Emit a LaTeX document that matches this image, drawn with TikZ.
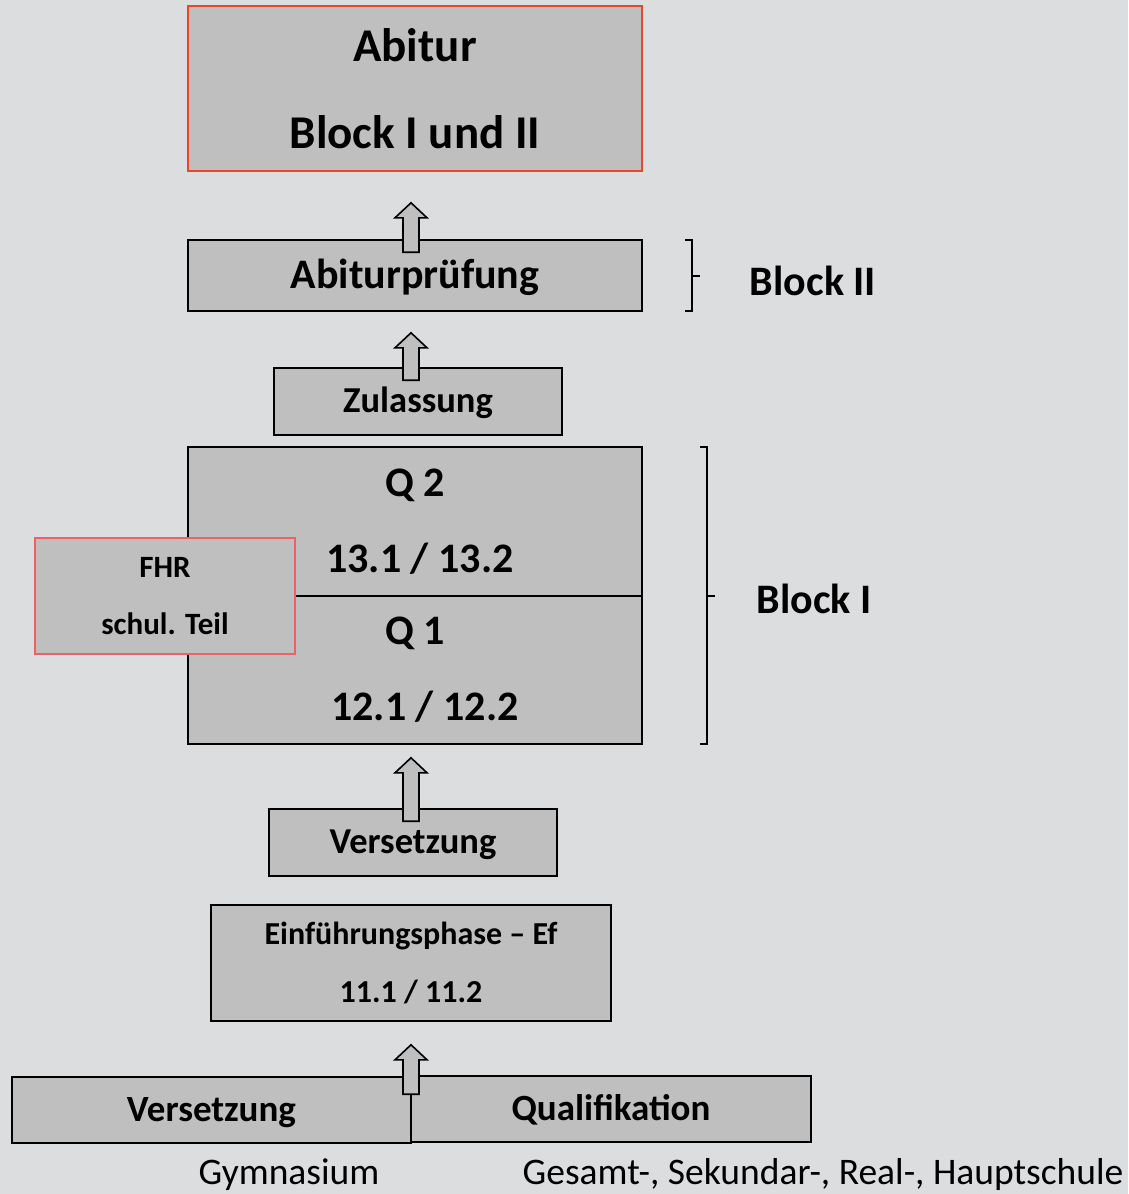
\documentclass[tikz,border=0pt]{standalone}
\usepackage{fontspec}
\setmainfont{Carlito}
\usetikzlibrary{calc}
\definecolor{bg}{RGB}{220,221,223}
\definecolor{boxfill}{RGB}{191,191,191}
\definecolor{redA}{RGB}{232,72,40}
\definecolor{redB}{RGB}{240,96,96}
\newcommand\fsz[2]{\fontsize{#1}{#2}\selectfont}
% hollow up-arrow: #1 lower node anchor, #2 upper node anchor, #3 gap below upper node, #4 overlap into lower node
\newcommand\hollowup[4]{%
  \draw[harrow] let \p1=(#1), \p2=(#2) in
    (403pt,\y1-#4pt) -- (403pt,\y2-#3pt-15pt) -- (395pt,\y2-#3pt-15pt) -- (411pt,\y2-#3pt)
    -- (427pt,\y2-#3pt-15pt) -- (419pt,\y2-#3pt-15pt) -- (419pt,\y1-#4pt) -- cycle;}
\begin{document}
\begin{tikzpicture}[x=1pt,y=-1pt,
  box/.style={draw=black, line width=1.6pt, fill=boxfill, inner sep=0pt, align=center},
  onebox/.style={box, text height=#1, text depth=0pt},
  harrow/.style={draw=black, line width=1.6pt, fill=boxfill, line join=miter},
  brace/.style={draw=black, line width=2.2pt, line join=miter},
  lbl/.style={inner sep=0pt, font=\bfseries\fsz{42}{50}},
  plain/.style={inner sep=0pt, text height=22pt, text depth=0pt, font=\fsz{37.5}{44}}]
\fill[bg] (0,0) rectangle (1128,1194);
\useasboundingbox (0,0) rectangle (1128,1194);

% boxes
\node[box, draw=redA, minimum width=454pt, minimum height=165pt, font=\bfseries\fsz{47}{87}] (abitur) at (415,88.5) {Abitur\\Block I und II};
\node[onebox=25pt, minimum width=454pt, minimum height=71pt, font=\bfseries\fsz{42}{50}] (abp) at (415,275.5) {Abiturprüfung};
\node[onebox=22pt, minimum width=288pt, minimum height=67pt, font=\bfseries\fsz{36.5}{44}] (zul) at (418,401.5) {Zulassung};
\node[box, minimum width=454pt, minimum height=149pt, font=\bfseries\fsz{42}{76}] (q2) at (415,521.5) {Q 2\\\hspace*{10pt}13.1 / 13.2};
\node[box, minimum width=454pt, minimum height=148pt, font=\bfseries\fsz{42}{76}] (q1) at (415,670) {Q 1\\\hspace*{20pt}12.1 / 12.2};
\node[box, draw=redB, line width=1.4pt, minimum width=260pt, minimum height=116pt, font=\bfseries\fsz{31}{57}] (fhr) at (165,596) {FHR\\schul. Teil};
\node[onebox=22pt, minimum width=288pt, minimum height=67pt, font=\bfseries\fsz{36.5}{44}] (vers) at (413,842.5) {Versetzung};
\node[box, minimum width=400pt, minimum height=116pt, font=\bfseries\fsz{32}{58}] (ef) at (411,963) {Einführungsphase -- Ef\\11.1 / 11.2};
\node[onebox=22pt, minimum width=399pt, minimum height=66pt, font=\bfseries\fsz{37}{44}] (versg) at (211.5,1110) {Versetzung};
\node[onebox=22pt, minimum width=400pt, minimum height=66pt, font=\bfseries\fsz{37}{44}] (qual) at (611,1109) {Qualifikation};

% labels below
\node[plain] (gym) at (289,1173) {Gymnasium};
\node[plain] (ges) at (823,1173) {Gesamt-, Sekundar-, Real-, Hauptschule};

% arrows
\hollowup{abp.north}{abitur.south}{31}{13}
\hollowup{zul.north}{abp.south}{21}{13}
\hollowup{vers.north}{q1.south}{13}{13}
\hollowup{qual.north}{ef.south}{23}{19}

% braces
\draw[brace] (685,240) -- (692,240) -- (692,311) -- (685,311);
\draw[brace] (692,276) -- (700,276);
\draw[brace] (700,447) -- (707,447) -- (707,744) -- (700,744);
\draw[brace] (707,596) -- (715,596);
\node[lbl] (b2) at (813,281) {Block II};
\node[lbl] (b1) at (814,599) {Block I};
\end{tikzpicture}
\end{document}
